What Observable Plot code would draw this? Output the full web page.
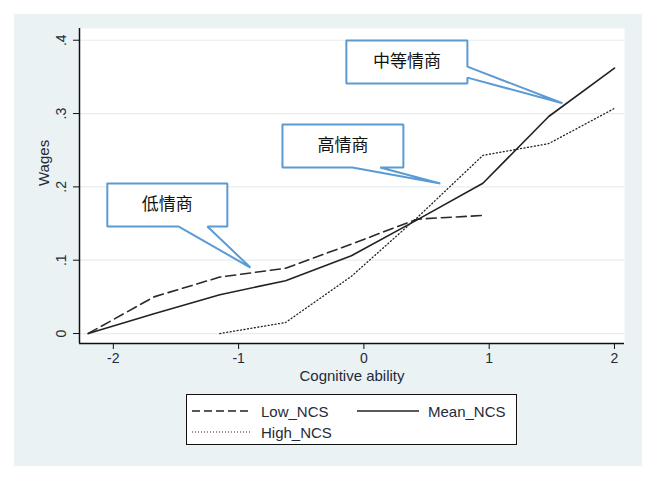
<!DOCTYPE html>
<html><head><meta charset="utf-8">
<script src="https://cdn.jsdelivr.net/npm/d3@7"></script>
<script src="https://cdn.jsdelivr.net/npm/@observablehq/plot@0.6"></script>
<style>
body{margin:0;background:#fff;}
#wrap{position:relative;width:651px;height:480px;background:#fff;font-family:"Liberation Sans",Arial,sans-serif;overflow:hidden;}
#panel{position:absolute;left:14px;top:14px;width:628px;height:452px;background:#EAF2F3;}
#chart{position:absolute;left:0;top:0;}
#legend{position:absolute;left:186px;top:394px;width:331px;height:51px;border:1.5px solid #111;background:#fff;box-sizing:border-box;font-size:15px;color:#1f2b38;}
#legend .it{position:absolute;display:flex;align-items:center;height:20px;}
#legend svg{margin-right:9px;}
</style></head>
<body>
<div id="wrap"><div id="panel"></div><div id="chart"></div>
<div id="legend">
 <div class="it" style="left:5px;top:6px"><svg width="60" height="4"><line x1="0" y1="2" x2="60" y2="2" stroke="#222" stroke-width="1.5" stroke-dasharray="8,4"/></svg>Low_NCS</div>
 <div class="it" style="left:170px;top:6px"><svg width="62" height="4"><line x1="0" y1="2" x2="62" y2="2" stroke="#222" stroke-width="1.5"/></svg>Mean_NCS</div>
 <div class="it" style="left:5px;top:27px"><svg width="60" height="4"><line x1="0" y1="2" x2="60" y2="2" stroke="#222" stroke-width="1.2" stroke-dasharray="1,2"/></svg>High_NCS</div>
</div>
</div>
<script>
// data
const xValues = [-2.2, -1.675, -1.15, -0.625, -0.1, 0.425, 0.95, 1.475, 2.0];
const lowNCS  = [0, 0.050, 0.077, 0.089, 0.122, 0.156, 0.161, null, null];
const meanNCS = [0, 0.027, 0.053, 0.072, 0.106, 0.155, 0.205, 0.296, 0.362];
const highNCS = [null, null, 0, 0.015, 0.078, 0.158, 0.243, 0.259, 0.307];
const xTicks = [-2, -1, 0, 1, 2];
const xTickLabels = ["-2", "-1", "0", "1", "2"];
const yTicks = [0, 0.1, 0.2, 0.3, 0.4];
const yTickLabels = ["0", ".1", ".2", ".3", ".4"];
// callout annotations (data coordinates)
const calloutLabels = ["低情商", "高情商", "中等情商"];
const calloutBoxes = [[-2.048, -1.090, 0.146, 0.2046], [-0.65, 0.315, 0.2265, 0.285], [-0.14, 0.826, 0.341, 0.3997]];
const calloutSide = ["bottom", "bottom", "right"];
const calloutBase = [[-1.481, -1.249], [-0.092, 0.13], [0.364, 0.349]];
const calloutTips = [[-0.906, 0.090], [0.61, 0.2046], [1.585, 0.314]];

const rows = [];
xValues.forEach((x, i) => {
  if (lowNCS[i] != null) rows.push({x, y: lowNCS[i], s: "Low_NCS"});
  if (meanNCS[i] != null) rows.push({x, y: meanNCS[i], s: "Mean_NCS"});
  if (highNCS[i] != null) rows.push({x, y: highNCS[i], s: "High_NCS"});
});
const boxes = calloutLabels.map((label, i) => {
  const [x1, x2, y1, y2] = calloutBoxes[i];
  return {label, x1, x2, y1, y2, cx: (x1 + x2) / 2, cy: (y1 + y2) / 2};
});
const outline = [];
calloutLabels.forEach((label, i) => {
  const [x1, x2, y1, y2] = calloutBoxes[i];
  const [b1, b2] = calloutBase[i];
  const [tx, ty] = calloutTips[i];
  let pts;
  if (calloutSide[i] === "bottom") {
    pts = [[x1, y2], [x2, y2], [x2, y1], [b2, y1], [tx, ty], [b1, y1], [x1, y1], [x1, y2]];
  } else {
    pts = [[x1, y2], [x2, y2], [x2, b1], [tx, ty], [x2, b2], [x2, y1], [x1, y1], [x1, y2]];
  }
  pts.forEach(([x, y]) => outline.push({x, y, label}));
});

const xDom = [-2.27, 2.08], yDom = [-0.0136, 0.416];
const tickColor = "#1f2b38";
const chart = Plot.plot({
  width: 651, height: 390,
  marginLeft: 79, marginRight: 27, marginTop: 28, marginBottom: 47,
  style: {background: "transparent", fontFamily: "'Liberation Sans', Arial, sans-serif", fontSize: "14px", color: tickColor},
  x: {domain: xDom},
  y: {domain: yDom},
  marks: [
    Plot.frame({fill: "white", stroke: null}),
    Plot.gridY(yTicks, {stroke: "#E4EEF0", strokeOpacity: 1, strokeWidth: 1.2}),
    Plot.line(rows.filter(d => d.s === "Low_NCS"), {x: "x", y: "y", stroke: "#2a2a2a", strokeWidth: 1.6, strokeDasharray: "10,5"}),
    Plot.line(rows.filter(d => d.s === "Mean_NCS"), {x: "x", y: "y", stroke: "#222", strokeWidth: 1.6}),
    Plot.line(rows.filter(d => d.s === "High_NCS"), {x: "x", y: "y", stroke: "#222", strokeWidth: 1.3, strokeDasharray: "1,2.5"}),
    Plot.rect(boxes, {x1: "x1", x2: "x2", y1: "y1", y2: "y2", fill: "white"}),
    Plot.line(outline, {x: "x", y: "y", z: "label", stroke: "#5B9BD5", strokeWidth: 2, strokeLinejoin: "miter"}),
    Plot.text(boxes, {x: "cx", y: "cy", text: "label", fontSize: 17, fontFamily: "'Noto Sans CJK SC'", fill: "#111"}),
    Plot.ruleX([xDom[0]], {stroke: "#111", strokeWidth: 1.5}),
    Plot.ruleY([yDom[0]], {stroke: "#111", strokeWidth: 1.5}),
    Plot.axisY(yTicks, {tickFormat: d => yTickLabels[yTicks.indexOf(d)], tickSize: 6, tickPadding: 8, tickRotate: -90, label: null, stroke: "#111", fill: tickColor, fontSize: 14}),
    Plot.axisX(xTicks, {tickFormat: d => xTickLabels[xTicks.indexOf(d)], tickSize: 6, tickPadding: 4, label: null, stroke: "#111", fill: tickColor, fontSize: 14}),
    Plot.text(["Wages"], {frameAnchor: "left", dx: -35, rotate: -90, fill: tickColor, fontSize: 15}),
    Plot.text(["Cognitive ability"], {frameAnchor: "bottom", dy: 37, fill: tickColor, fontSize: 15})
  ]
});
document.getElementById("chart").appendChild(chart);
</script>
</body></html>
